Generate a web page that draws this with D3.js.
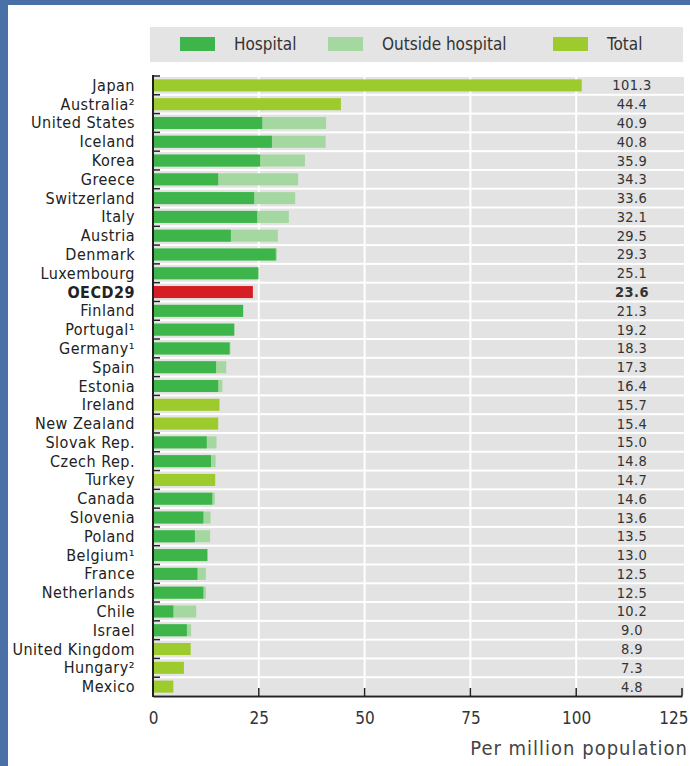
<!DOCTYPE html>
<html>
<head>
<meta charset="utf-8">
<script src="https://cdn.jsdelivr.net/npm/d3@7"></script>
<style>
  body { margin: 0; background: #fff; }
  svg text { font-family: "DejaVu Sans Condensed", "DejaVu Sans", sans-serif; font-stretch: condensed; }
</style>
</head>
<body>
<div id="chart"></div>
<script>
// countries, top to bottom
var countries = ["Japan", "Australia²", "United States", "Iceland", "Korea", "Greece", "Switzerland", "Italy",
  "Austria", "Denmark", "Luxembourg", "OECD29", "Finland", "Portugal¹", "Germany¹", "Spain", "Estonia",
  "Ireland", "New Zealand", "Slovak Rep.", "Czech Rep.", "Turkey", "Canada", "Slovenia", "Poland",
  "Belgium¹", "France", "Netherlands", "Chile", "Israel", "United Kingdom", "Hungary²", "Mexico"];
// total per million population (label column)
var totals = [101.3, 44.4, 40.9, 40.8, 35.9, 34.3, 33.6, 32.1, 29.5, 29.3, 25.1, 23.6, 21.3, 19.2, 18.3, 17.3, 16.4,
  15.7, 15.4, 15.0, 14.8, 14.7, 14.6, 13.6, 13.5, 13.0, 12.5, 12.5, 10.2, 9.0, 8.9, 7.3, 4.8];
// hospital part (null = only total available)
var hospital = [null, null, 25.8, 28.1, 25.3, 15.4, 23.9, 24.6, 18.4, 29.0, 24.8, null, 21.3, 19.2, 18.1, 14.9, 15.4,
  null, null, 12.7, 13.7, null, 14.0, 11.9, 9.9, 12.8, 10.5, 11.9, 4.8, 8.0, null, null, null];
var xTicks = [0, 25, 50, 75, 100, 125];

var W = 690, H = 766;
var colHosp = "#3db54b", colOut = "#a5d8a0", colTotal = "#9dca2c", colOecd = "#d71d24";

var svg = d3.select("#chart").append("svg")
  .attr("width", W).attr("height", H);

// frame
svg.append("rect").attr("width", W).attr("height", H).attr("fill", "#fff");
svg.append("rect").attr("x", 0).attr("y", 0).attr("width", 8).attr("height", H).attr("fill", "#4a70a8");
svg.append("rect").attr("x", 0).attr("y", 0).attr("width", W).attr("height", 5).attr("fill", "#4a70a8");

var x = d3.scaleLinear().domain([0, 125]).range([153, 682]);
var y = d3.scaleBand().domain(countries).range([76, 696]);
var yBar = d3.scaleBand().domain(countries).range([76, 696]).paddingInner(0.36).paddingOuter(0.18);

// legend box
svg.append("rect").attr("x", 150).attr("y", 27).attr("width", 533).attr("height", 35).attr("fill", "#e4e4e4");
var legend = [["Hospital", colHosp, 180], ["Outside hospital", colOut, 328], ["Total", colTotal, 553]];
legend.forEach(function(l) {
  svg.append("rect").attr("x", l[2]).attr("y", 37).attr("width", 35).attr("height", 14).attr("fill", l[1]);
  svg.append("text").attr("x", l[2] + 54).attr("y", 50).attr("font-size", 17).attr("fill", "#333").text(l[0]);
});

// grey row bands
svg.selectAll(".band").data(countries).enter().append("rect")
  .attr("x", x(0)).attr("y", function(d) { return y(d) + 1; })
  .attr("width", 684 - x(0)).attr("height", y.bandwidth() - 2)
  .attr("fill", "#e3e3e3");

// white vertical grid
svg.selectAll(".grid").data(xTicks.slice(1, 5)).enter().append("line")
  .attr("x1", function(d) { return x(d); }).attr("x2", function(d) { return x(d); })
  .attr("y1", 76).attr("y2", 696).attr("stroke", "#fff").attr("stroke-width", 2);

var rows = countries.map(function(c, i) { return {c: c, t: totals[i], h: hospital[i]}; });

// bars
rows.forEach(function(r) {
  var by = yBar(r.c), bh = yBar.bandwidth();
  if (r.h === null) {
    svg.append("rect").attr("x", x(0)).attr("y", by).attr("width", x(r.t) - x(0)).attr("height", bh)
      .attr("fill", r.c === "OECD29" ? colOecd : colTotal);
  } else {
    svg.append("rect").attr("x", x(0)).attr("y", by).attr("width", x(r.t) - x(0)).attr("height", bh).attr("fill", colOut);
    svg.append("rect").attr("x", x(0)).attr("y", by).attr("width", x(r.h) - x(0)).attr("height", bh).attr("fill", colHosp);
  }
});

// country labels
svg.selectAll(".lab").data(rows).enter().append("text")
  .attr("x", 135).attr("y", function(d) { return y(d.c) + y.bandwidth() / 2 + 5.5; })
  .attr("text-anchor", "end").attr("font-size", 16).attr("letter-spacing", 0.5)
  .attr("font-weight", function(d) { return d.c === "OECD29" ? "bold" : "normal"; })
  .attr("fill", "#222").text(function(d) { return d.c; });

// value labels
svg.selectAll(".val").data(rows).enter().append("text")
  .attr("x", 632).attr("y", function(d) { return y(d.c) + y.bandwidth() / 2 + 5; })
  .attr("text-anchor", "middle").attr("font-size", 14.5).attr("letter-spacing", 0.4)
  .attr("font-weight", function(d) { return d.c === "OECD29" ? "bold" : "normal"; })
  .attr("fill", "#333").text(function(d) { return d.t.toFixed(1); });

// left axis with row ticks
svg.append("line").attr("x1", 153).attr("x2", 153).attr("y1", 75).attr("y2", 697).attr("stroke", "#222").attr("stroke-width", 2);
svg.selectAll(".ltick").data(countries).enter().append("line")
  .attr("x1", 153).attr("x2", 160)
  .attr("y1", function(d) { return y(d); }).attr("y2", function(d) { return y(d); })
  .attr("stroke", "#222").attr("stroke-width", 1.5);

// bottom axis
var xAxis = svg.append("g").attr("transform", "translate(0,696)")
  .call(d3.axisBottom(x).tickValues(xTicks).tickSize(0).tickPadding(16));
xAxis.select(".domain").attr("stroke", "#222").attr("stroke-width", 2);
xAxis.selectAll("text").attr("font-size", 17).attr("fill", "#333")
  .style("font-family", "'DejaVu Sans Condensed', 'DejaVu Sans', sans-serif");
xAxis.selectAll(".tick").filter(function(d) { return d === 125; }).select("text")
  .attr("text-anchor", "end").attr("x", 6);
svg.selectAll(".btick").data(xTicks.slice(1)).enter().append("line")
  .attr("x1", function(d) { return x(d); }).attr("x2", function(d) { return x(d); })
  .attr("y1", 696).attr("y2", 688).attr("stroke", "#222").attr("stroke-width", 1.5);

svg.append("text").attr("x", 688).attr("y", 755).attr("text-anchor", "end")
  .attr("font-size", 20).attr("letter-spacing", 1).attr("fill", "#444")
  .style("font-family", "'DejaVu Sans', sans-serif")
  .text("Per million population");
</script>
</body>
</html>
